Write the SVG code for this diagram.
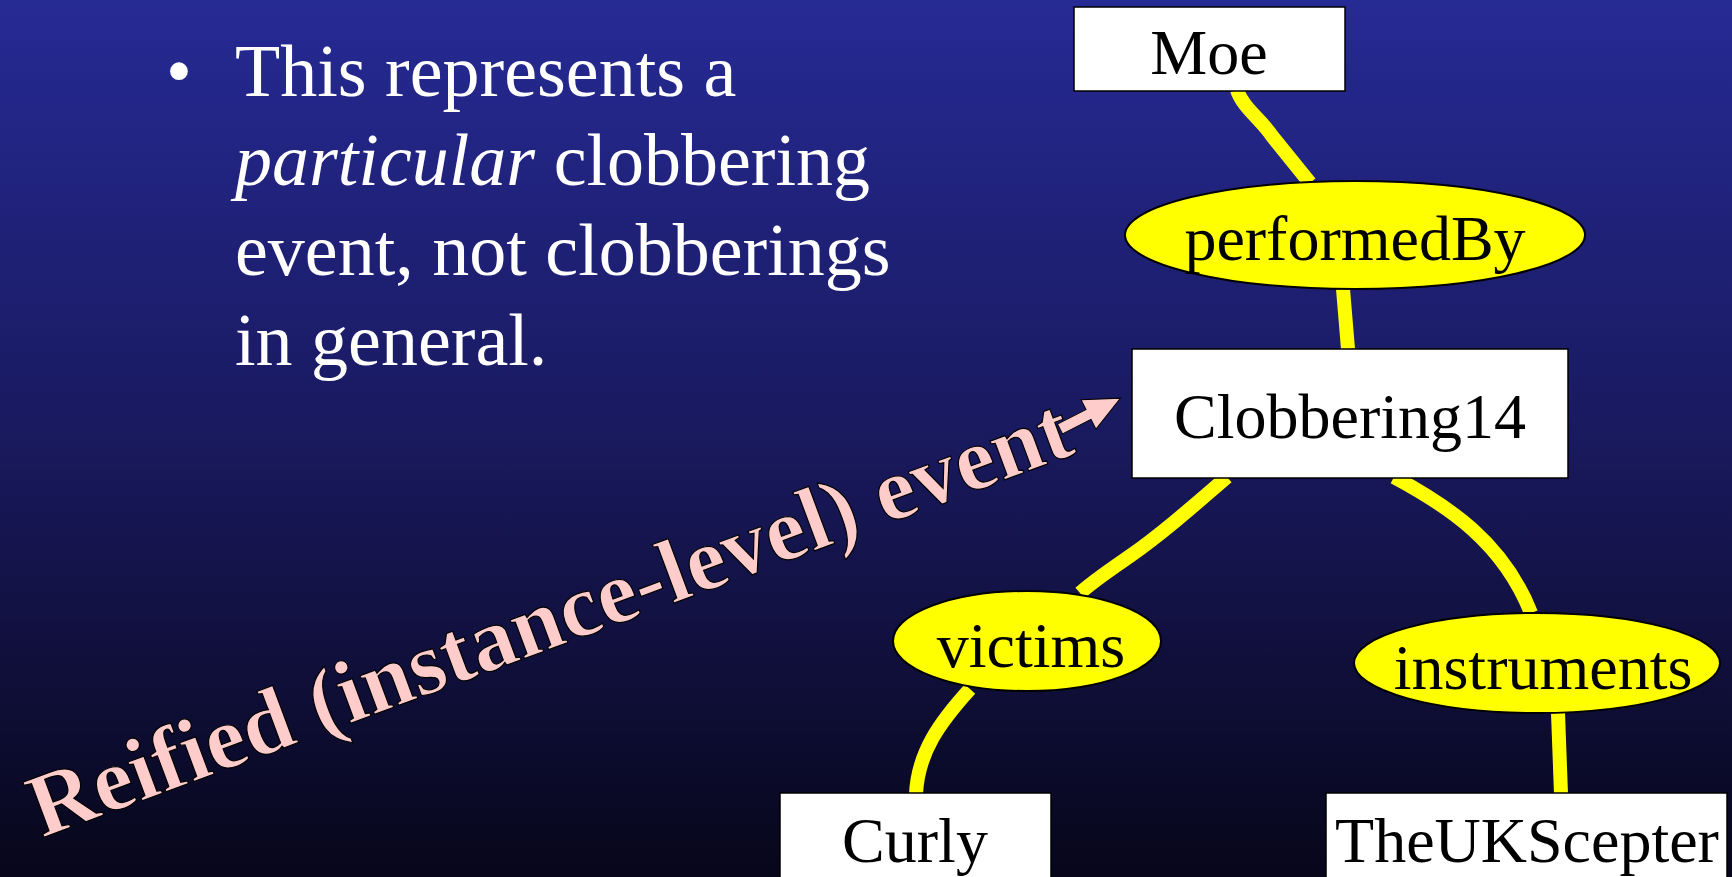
<svg xmlns="http://www.w3.org/2000/svg" width="1732" height="877" viewBox="0 0 1732 877">
  <defs>
    <linearGradient id="bg" x1="0" y1="0" x2="0" y2="1">
      <stop offset="0" stop-color="#262a94"/>
      <stop offset="0.5" stop-color="#19195e"/>
      <stop offset="1" stop-color="#07061a"/>
    </linearGradient>
    <style>
      .box { fill: #ffffff; stroke: #000000; stroke-width: 1.5; }
      .prop { fill: #ffff00; stroke: #000000; stroke-width: 2; }
      .label { font-family: "Liberation Serif", "Times New Roman", serif; font-size: 64px; fill: #000000; text-anchor: middle; }
      .edge { fill: none; stroke: #ffff00; stroke-width: 14; }
      .body { font-family: "Liberation Serif", "Times New Roman", serif; font-size: 74px; fill: #ffffff; }
      .callout { font-family: "Liberation Serif", "Times New Roman", serif; font-size: 90px; font-weight: bold; fill: #ffcccc; stroke: #000000; stroke-width: 1.2; }
    </style>
  </defs>

  <rect x="0" y="0" width="1732" height="877" fill="url(#bg)"/>

  <!-- bullet text -->
  <g id="bullet">
    <text class="body" x="166" y="96">•</text>
    <text class="body" x="235" y="96">This represents a</text>
    <text class="body" x="235" y="185"><tspan font-style="italic">particular</tspan> clobbering</text>
    <text class="body" x="235" y="275">event, not clobberings</text>
    <text class="body" x="235" y="365">in general.</text>
  </g>

  <!-- connectors -->
  <g id="connectors">
    <path class="edge" d="M1237,90 C1243,108 1262,120 1272,136 L1310,183"/>
    <path class="edge" d="M1343,289 L1348,349"/>
    <path class="edge" d="M1227,477 C1190,509 1160,535 1130,556 S1095,580 1080,593"/>
    <path class="edge" d="M970,689 C940,722 918,752 916,794"/>
    <path class="edge" d="M1394,477 C1448,506 1503,542 1531,613"/>
    <path class="edge" d="M1558,713 L1561,794"/>
  </g>

  <!-- nodes -->
  <g id="moe">
    <rect class="box" x="1074" y="7" width="271" height="84"/>
    <text class="label" x="1209" y="74">Moe</text>
  </g>
  <g id="performedBy">
    <ellipse class="prop" cx="1355" cy="235" rx="230" ry="54"/>
    <text class="label" x="1355" y="260">performedBy</text>
  </g>
  <g id="clobbering14">
    <rect class="box" x="1132" y="349" width="436" height="129"/>
    <text class="label" x="1350" y="438">Clobbering14</text>
  </g>
  <g id="victims">
    <ellipse class="prop" cx="1027" cy="641" rx="134" ry="50"/>
    <text class="label" x="1031" y="667">victims</text>
  </g>
  <g id="instruments">
    <ellipse class="prop" cx="1537" cy="663" rx="183" ry="50"/>
    <text class="label" x="1543" y="689">instruments</text>
  </g>
  <g id="curly">
    <rect class="box" x="780" y="793" width="271" height="100"/>
    <text class="label" x="915" y="862">Curly</text>
  </g>
  <g id="theUKScepter">
    <rect class="box" x="1326" y="793" width="401" height="100"/>
    <text class="label" x="1527" y="862">TheUKScepter</text>
  </g>

  <!-- rotated callout with arrow -->
  <g id="callout">
    <polygon fill="#ffcccc" stroke="#000000" stroke-width="1" transform="translate(1060,429) rotate(-27)" points="0,-5.5 32,-5.5 32,-16.5 68,0 32,16.5 32,5.5 0,5.5"/>
    <text class="callout" transform="translate(42,838) rotate(-20.4)">Reified (instance-level) event</text>
  </g>
</svg>
